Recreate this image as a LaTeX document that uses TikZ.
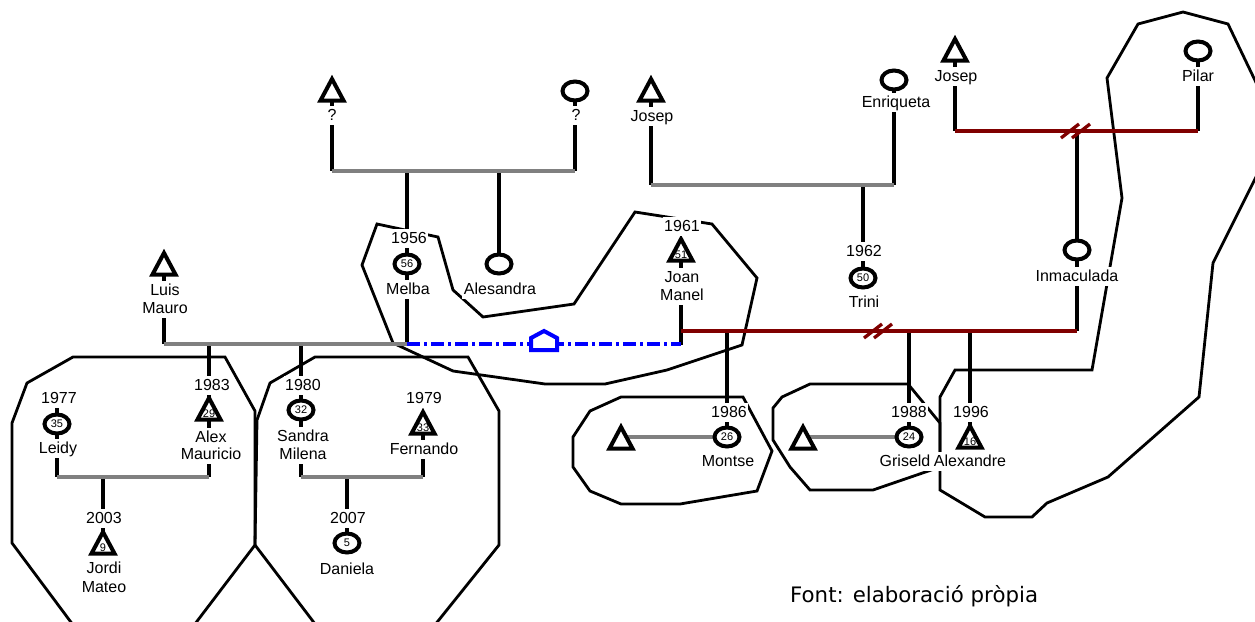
\documentclass[tikz,border=0pt]{standalone}
\usepackage{fontspec}
\newfontfamily\labfont{Liberation Sans}
\newfontfamily\srcfont{DejaVu Sans}
\usetikzlibrary{calc}
\definecolor{famgray}{RGB}{128,128,128}
\definecolor{famred}{RGB}{128,0,0}
\definecolor{famblue}{RGB}{0,0,255}
\tikzset{
  kin/.style={line width=4pt},
  gline/.style={famgray, line width=3.3pt},
  rline/.style={famred, line width=3.7pt},
  cutmark/.style={famred, line width=3.3pt},
  hull/.style={line width=2.8pt, line join=miter},
  bline/.style={famblue, line width=4pt, dash pattern=on 13pt off 4pt on 3pt off 4pt},
  lab/.style={font=\labfont\fontsize{16}{18}\selectfont, fill=white, inner xsep=1.5pt, inner ysep=1.5pt, text height=12.5pt, text depth=3.5pt, anchor=base},
  num/.style={font=\labfont\fontsize{11}{12}\selectfont, inner sep=0pt},
  male/.pic={\draw[line width=4pt, fill=white] (0,-10)--(11.5,11.5)--(-11.5,11.5)--cycle;},
  female/.pic={\draw[line width=4pt, fill=white] (0,0) ellipse [x radius=12.5pt, y radius=9.5pt];},
}
\begin{document}
\begin{tikzpicture}[x=1pt,y=-1pt]
\useasboundingbox (0,0) rectangle (1255,621);
\fill[white] (0,0) rectangle (1255,621);
\clip (0,0) rectangle (1255,621);

% persons
\coordinate (qm) at (332,89);
\coordinate (qf) at (575,91);
\coordinate (melba) at (407,264);
\coordinate (alesandra) at (499,264);
\coordinate (josepL) at (651,89);
\coordinate (enriq) at (894,80);
\coordinate (trini) at (863,278);
\coordinate (josepR) at (955,49);
\coordinate (pilar) at (1198,51);
\coordinate (inma) at (1077,250);
\coordinate (joan) at (681,249);
\coordinate (montse) at (727,437);
\coordinate (montseP) at (621,437);
\coordinate (griseld) at (909,437);
\coordinate (griseldP) at (803,437);
\coordinate (alexandre) at (970,436);
\coordinate (luis) at (164,263);
\coordinate (alex) at (209,408);
\coordinate (leidy) at (57,424);
\coordinate (jordi) at (103,542);
\coordinate (sandra) at (301,410);
\coordinate (fernando) at (423,422);
\coordinate (daniela) at (347,543);

% family lines
\coordinate (u1) at (332,171); \coordinate (u1e) at (575,171);
\coordinate (u2) at (651,185); \coordinate (u2e) at (894,185);
\coordinate (u3) at (955,131); \coordinate (u3e) at (1198,131);
\coordinate (u4) at (681,331); \coordinate (u4e) at (1077,331);
\coordinate (u5) at (164,344); \coordinate (u5e) at (407,344); \coordinate (u5b) at (681,344);
\coordinate (u6) at (57,477); \coordinate (u6e) at (209,477);
\coordinate (u7) at (301,477); \coordinate (u7e) at (423,477);
\coordinate (leidyTop) at (57,400);
\coordinate (joanEnd) at (681,345);
\coordinate (cut1) at (1070,131); \coordinate (cut2) at (1081,131);
\coordinate (cut3) at (873,331); \coordinate (cut4) at (883,331);

% household hulls
\draw[hull] (73,357) -- (225,357) -- (255,411) -- (255,545) -- (182,641) -- (85,641) -- (12,543) -- (12,423) -- (27,383) -- cycle;
\draw[hull] (315,357) -- (468,357) -- (499,411) -- (499,545) -- (422,641) -- (328,641) -- (255,545) -- (257,420) -- (270,383) -- cycle;
\draw[hull] (377,224) -- (438,237) -- (453,290) -- (462,298) -- (483,317) -- (574,304) -- (635,212) -- (712,224) -- (757,278) -- (742,345) -- (667,370) -- (605,384) -- (545,384) -- (453,371) -- (393,343) -- (362,265) -- cycle;
\draw[hull] (621,397) -- (743,397) -- (772,451) -- (757,491) -- (680,504) -- (621,504) -- (590,491) -- (573,467) -- (573,437) -- (590,411) -- cycle;
\draw[hull] (810,384) -- (908,384) -- (940,423) -- (940,467) -- (873,490) -- (810,490) -- (790,467) -- (773,440) -- (773,408) -- (782,397) -- cycle;
\draw[hull] (1107,78) -- (1138,24) -- (1183,12) -- (1228,24) -- (1262,95) -- (1262,165) -- (1213,263) -- (1199,397) -- (1108,477) -- (1047,503) -- (1032,517) -- (985,517) -- (940,490) -- (940,397) -- (955,370) -- (1092,370) -- (1122,198) -- cycle;

% vertical kin lines
\draw[kin] (qm) -- (u1);
\draw[kin] (qf) -- (u1e);
\draw[kin] (melba |- u1) -- (u5e);
\draw[kin] (alesandra |- u1) -- (alesandra);
\draw[kin] (josepL) -- (u2);
\draw[kin] (enriq) -- (u2e);
\draw[kin] (trini |- u2) -- (trini);
\draw[kin] (josepR) -- (u3);
\draw[kin] (pilar) -- (u3e);
\draw[kin] (inma |- u3) -- (u4e);
\draw[kin] (joan) -- (joanEnd);
\draw[kin] (montse |- u4) -- (montse);
\draw[kin] (griseld |- u4) -- (griseld);
\draw[kin] (alexandre |- u4) -- (alexandre);
\draw[kin] (luis) -- (u5);
\draw[kin] (alex |- u5) -- (u6e);
\draw[kin] (leidyTop) -- (u6);
\draw[kin] (jordi |- u6) -- (jordi);
\draw[kin] (sandra |- u5) -- (u7);
\draw[kin] (fernando) -- (u7e);
\draw[kin] (daniela |- u7) -- (daniela);

% union lines
\draw[gline] (u1) -- (u1e);
\draw[gline] (u2) -- (u2e);
\draw[gline] (u5) -- (u5e);
\draw[gline] (u6) -- (u6e);
\draw[gline] (u7) -- (u7e);
\draw[gline] (montseP) -- (montse);
\draw[gline] (griseldP) -- (griseld);
\draw[rline] (u3) -- (u3e);
\draw[rline] (u4) -- (u4e);
\draw[bline] (u5e) -- (u5b);
\draw[cutmark] ($(cut1)+(-9,7)$) -- ($(cut1)+(9,-7)$);
\draw[cutmark] ($(cut2)+(-9,7)$) -- ($(cut2)+(9,-7)$);
\draw[cutmark] ($(cut3)+(-9,7)$) -- ($(cut3)+(9,-7)$);
\draw[cutmark] ($(cut4)+(-9,7)$) -- ($(cut4)+(9,-7)$);
% house
\coordinate (house) at (544,341);
\draw[famblue, line width=4pt, fill=white] ($(house)+(-13,9)$) -- ($(house)+(-13,-3)$) -- ($(house)+(0,-10)$) -- ($(house)+(13,-3)$) -- ($(house)+(13,9)$) -- cycle;

% symbols
\foreach \p in {qm,josepL,josepR,joan,montseP,griseldP,alexandre,luis,alex,jordi,fernando} {\pic at (\p) {male};}
\foreach \p in {qf,melba,alesandra,enriq,trini,pilar,inma,montse,griseld,leidy,sandra,daniela} {\pic at (\p) {female};}

% ages
\node[num] (n-melba) at (melba) {56};
\node[num] (n-trini) at (trini) {50};
\node[num] (n-montse) at (montse) {26};
\node[num] (n-griseld) at (griseld) {24};
\node[num] (n-leidy) at (leidy) {35};
\node[num] (n-sandra) at (sandra) {32};
\node[num] (n-daniela) at (daniela) {5};
\node[num] (n-joan) at ($(joan)+(0,6)$) {51};
\node[num] (n-alexandre) at ($(alexandre)+(0,6)$) {16};
\node[num] (n-alex) at ($(alex)+(0,6)$) {29};
\node[num] (n-jordi) at ($(jordi)+(0,6)$) {9};
\node[num] (n-fernando) at ($(fernando)+(0,6)$) {33};

% labels
\node[lab] (t-qm) at (332,120) {?};
\node[lab] (t-qf) at (576,120) {?};
\node[lab] (y-melba) at (409,243) {1956};
\node[lab] (t-melba) at (408,294) {Melba};
\node[lab] (t-alesandra) at (500,294) {Alesandra};
\node[lab] (t-josepL) at (652,121) {Josep};
\node[lab] (t-enriq) at (896,107) {Enriqueta};
\node[lab] (y-trini) at (864,256) {1962};
\node[lab] (t-trini) at (864,307) {Trini};
\node[lab] (t-josepR) at (956,81) {Josep};
\node[lab] (t-pilar) at (1198,81) {Pilar};
\node[lab] (t-inma) at (1077,281) {Inmaculada};
\node[lab] (y-joan) at (682,231) {1961};
\node[lab] (t-joan1) at (682,282) {Joan};
\node[lab] (t-joan2) at (682,300) {Manel};
\node[lab] (y-montse) at (729,417) {1986};
\node[lab] (t-montse) at (728,466) {Montse};
\node[lab] (y-griseld) at (909,417) {1988};
\node[lab] (t-griseld) at (905,466) {Griseld};
\node[lab] (y-alexandre) at (971,417) {1996};
\node[lab] (t-alexandre) at (970,466) {Alexandre};
\node[lab] (t-luis1) at (165,295) {Luis};
\node[lab] (t-luis2) at (165,313) {Mauro};
\node[lab] (y-alex) at (212,390) {1983};
\node[lab] (t-alex1) at (211,442) {Alex};
\node[lab] (t-alex2) at (211,459) {Mauricio};
\node[lab] (y-leidy) at (59,403) {1977};
\node[lab] (t-leidy) at (58,453) {Leidy};
\node[lab] (y-jordi) at (104,523) {2003};
\node[lab] (t-jordi1) at (104,573) {Jordi};
\node[lab] (t-jordi2) at (104,592) {Mateo};
\node[lab] (y-sandra) at (303,390) {1980};
\node[lab] (t-sandra1) at (303,441) {Sandra};
\node[lab] (t-sandra2) at (303,459) {Milena};
\node[lab] (y-fernando) at (424,403) {1979};
\node[lab] (t-fernando) at (424,454) {Fernando};
\node[lab] (y-daniela) at (348,523) {2007};
\node[lab] (t-daniela) at (347,574) {Daniela};

\node[anchor=base west, font=\srcfont\fontsize{21.3}{25}\selectfont, inner sep=0pt] (src) at (790,602) {Font: elaboració pròpia};
\end{tikzpicture}
\end{document}
